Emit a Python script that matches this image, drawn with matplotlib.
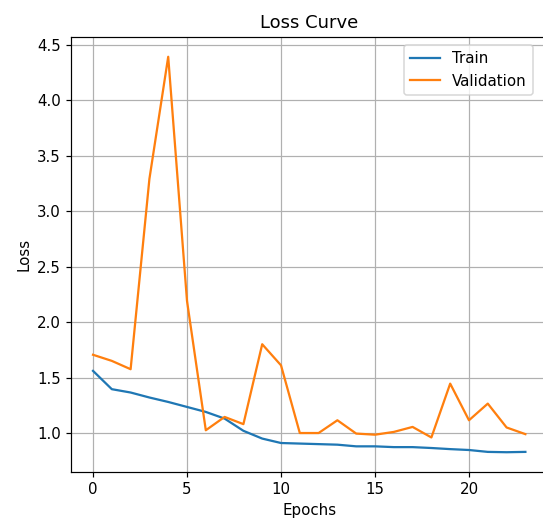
import numpy as np
import matplotlib
matplotlib.use("Agg")
import matplotlib.pyplot as plt

epochs = list(range(24))
train_loss = [1.56, 1.395, 1.365, 1.32, 1.28, 1.235, 1.19, 1.13, 1.02, 0.95, 0.91, 0.905,
              0.90, 0.895, 0.88, 0.88, 0.873, 0.873, 0.865, 0.855, 0.847, 0.83, 0.827, 0.83]
val_loss = [1.705, 1.65, 1.575, 3.29, 4.39, 2.19, 1.025, 1.145, 1.08, 1.80, 1.61, 1.0,
            1.0, 1.115, 0.995, 0.985, 1.01, 1.055, 0.96, 1.445, 1.115, 1.265, 1.05, 0.99]

DPI = 108  # reference looks like a slightly enlarged default render
W, H = 543, 520
fig = plt.figure(figsize=(W / DPI, H / DPI), dpi=DPI)
# axes runs slightly past the right edge (the reference is cropped there)
ax_l, ax_b, ax_w, ax_h = 71.4, 472, 475.6, 435
ax = fig.add_axes([ax_l / W, 1 - ax_b / H, ax_w / W, ax_h / H])

ax.plot(epochs, train_loss, label="Train")
ax.plot(epochs, val_loss, label="Validation")
ax.set_title("Loss Curve")
ax.set_xlabel("Epochs")
ax.set_ylabel("Loss")
ax.grid(True)
ax.legend(loc="upper right", borderaxespad=0,
          bbox_to_anchor=((533 - ax_l) / ax_w, 1 - (45 - 37) / ax_h))

fig.savefig("out.png", dpi=DPI)
